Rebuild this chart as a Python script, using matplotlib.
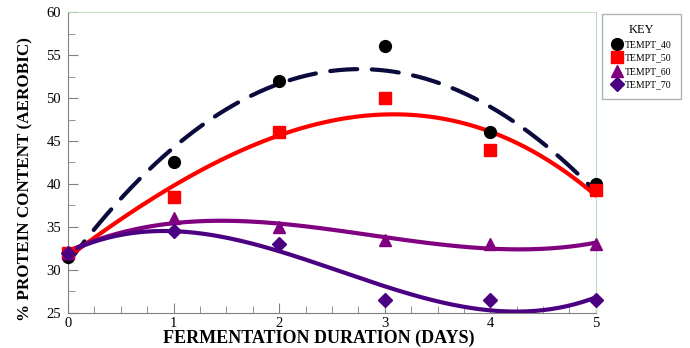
import numpy as np
import matplotlib
matplotlib.use("Agg")
import matplotlib.pyplot as plt
from matplotlib.ticker import MultipleLocator

days = [0, 1, 2, 3, 4, 5]
tempt_40 = [31.5, 42.5, 52.0, 56.0, 46.0, 40.0]
tempt_50 = [32.0, 38.5, 46.0, 50.0, 44.0, 39.3]
tempt_60 = [32.0, 36.0, 35.0, 33.5, 33.0, 33.0]
tempt_70 = [32.0, 34.5, 33.0, 26.5, 26.5, 26.5]
labels = ["TEMPT_40", "TEMPT_50", "TEMPT_60", "TEMPT_70"]

plt.rcParams['font.family'] = ['Liberation Serif', 'DejaVu Serif']

fig = plt.figure(figsize=(6.9, 3.48), dpi=100)
ax = fig.add_axes([0.0986, 0.1006, 0.765, 0.8649])

styles = [
    (tempt_40, 'black', '#0a0a3c', 'o', (0, (6.5, 3.5))),
    (tempt_50, '#ff0000', '#ff0000', 's', '-'),
    (tempt_60, '#800080', '#800080', '^', '-'),
    (tempt_70, '#4b0082', '#4b0082', 'D', '-'),
]
xs = np.linspace(0, 5, 200)
handles = []
for (vals, mc, lc, mk, ls), lab in zip(styles, labels):
    coef = np.polyfit(days, vals, 3)
    ax.plot(xs, np.polyval(coef, xs), color=lc, lw=3.0, ls=ls, zorder=2,
            solid_capstyle='round', dash_capstyle='round')
    ms = 8.5 if mk != 'D' else 7
    h, = ax.plot(days, vals, ls='none', marker=mk, color=mc, ms=ms, zorder=3,
                 clip_on=False)
    handles.append(h)

ax.set_xlim(0, 5)
ax.set_ylim(25, 60)
ax.xaxis.set_major_locator(MultipleLocator(1))
ax.xaxis.set_minor_locator(MultipleLocator(0.25))
ax.yaxis.set_major_locator(MultipleLocator(5))
ax.yaxis.set_minor_locator(MultipleLocator(2.5))
ax.tick_params(which='both', direction='in', color='#808080', labelsize=10.5)
ax.tick_params(which='major', length=7)
ax.tick_params(which='minor', length=5)
ax.tick_params(axis='x', pad=3)
ax.tick_params(axis='y', pad=5)
for s in ['left', 'bottom']:
    ax.spines[s].set_color('#808080')
for s in ['top', 'right']:
    ax.spines[s].set_color('#b8ddb8')
ax.spines['top'].set_linewidth(0.6)

ax.set_xlabel('FERMENTATION DURATION (DAYS)', fontsize=13, fontweight='bold',
              va='center')
ax.xaxis.set_label_coords(0.475, -0.084)
ax.set_ylabel('% PROTEIN CONTENT (AEROBIC)', fontsize=12.3, fontweight='bold',
              va='center')
ax.yaxis.set_label_coords(-0.081, 0.445)

leg = fig.legend(handles, labels, title='KEY', loc='upper left',
                 bbox_to_anchor=(0.866, 0.973), fontsize=7, title_fontsize=9,
                 frameon=True, fancybox=False, edgecolor='#a0a0a0',
                 handletextpad=0.3, handlelength=1.0, borderpad=1.0,
                 labelspacing=0.45, markerscale=1.0)
leg.get_frame().set_linewidth(1.0)

fig.savefig('out.png', dpi=100)
